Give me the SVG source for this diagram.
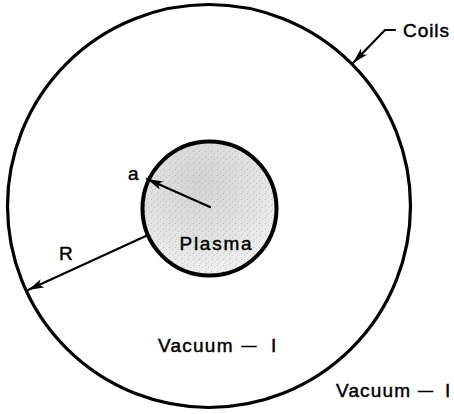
<svg xmlns="http://www.w3.org/2000/svg" width="454" height="414" viewBox="0 0 454 414">
  <style>
    .lbl { font-family: "Liberation Sans", Arial, sans-serif; font-size: 19px; fill: #000; stroke: #000; stroke-width: 0.45; }
    .dash { font-size: 15px; }
    .ring { fill: none; stroke: #000; }
    .arr { fill: none; stroke: #000; stroke-width: 2.2; stroke-linecap: round; stroke-linejoin: round; }
  </style>
  <defs>
    <radialGradient id="plasmaFill" cx="0.42" cy="0.3" r="0.8">
      <stop offset="0" stop-color="#d2d2d2"/>
      <stop offset="0.6" stop-color="#e4e4e4"/>
      <stop offset="1" stop-color="#f5f5f5"/>
    </radialGradient>
    <pattern id="stipple" width="6" height="6" patternUnits="userSpaceOnUse">
      <rect x="1" y="1" width="1" height="1" fill="#9a9a9a"/>
      <rect x="4" y="3" width="1" height="1" fill="#b0b0b0"/>
      <rect x="2" y="5" width="1" height="1" fill="#c0c0c0"/>
    </pattern>
    <marker id="head" markerUnits="userSpaceOnUse" markerWidth="17" markerHeight="12" refX="16" refY="4.5" orient="auto">
      <path d="M0,0 L16,4.5 L0,9 L4,4.5 z" fill="#000"/>
    </marker>
  </defs>

  <g id="coils">
    <circle class="ring" cx="209" cy="206" r="201.5" stroke-width="3.2"/>
  </g>

  <g id="plasma">
    <circle cx="209.5" cy="208.5" r="67" fill="url(#plasmaFill)"/>
    <circle cx="209.5" cy="208.5" r="67" fill="url(#stipple)" opacity="0.6"/>
    <circle class="ring" cx="209.5" cy="208.5" r="67" stroke-width="4"/>
    <text class="lbl" x="179.5" y="249.5" textLength="72" lengthAdjust="spacing">Plasma</text>
  </g>

  <g id="connectors">
    <line class="arr" x1="210" y1="207" x2="147" y2="179" marker-end="url(#head)"/>
    <line class="arr" x1="148" y1="235" x2="28" y2="290" marker-end="url(#head)"/>
    <polyline class="arr" points="395,30 385,30 353,63" marker-end="url(#head)"/>
  </g>

  <g id="labels">
    <text class="lbl" x="128" y="180">a</text>
    <text class="lbl" x="59" y="260">R</text>
    <text class="lbl" x="403" y="37" textLength="46" lengthAdjust="spacing">Coils</text>
  </g>

  <g id="vacuum-inner">
    <text class="lbl" x="158" y="352"><tspan textLength="74.5" lengthAdjust="spacing">Vacuum</tspan><tspan class="dash" x="241.5" dy="-2">—</tspan><tspan x="271" dy="2">I</tspan></text>
  </g>
  <g id="vacuum-outer">
    <text class="lbl" x="336" y="397"><tspan textLength="74" lengthAdjust="spacing">Vacuum</tspan><tspan class="dash" x="418" dy="-2">—</tspan><tspan x="445" dy="2">I</tspan></text>
  </g>
</svg>
